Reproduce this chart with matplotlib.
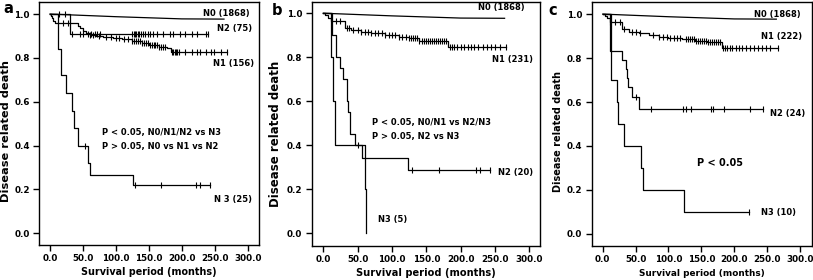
import numpy as np
import matplotlib
matplotlib.use("Agg")
import matplotlib.pyplot as plt

plt.rcParams['font.family'] = ['DejaVu Sans']
plt.rcParams['font.weight'] = 'bold'

# ---------------- data ----------------
x_ticks = [0, 50, 100, 150, 200, 250, 300]
x_tick_labels = ["0.0", "50.0", "100.0", "150.0", "200.0", "250.0", "300.0"]
y_ticks = [0.0, 0.2, 0.4, 0.6, 0.8, 1.0]
y_tick_labels = ["0.0", "0.2", "0.4", "0.6", "0.8", "1.0"]

# N0 (large group, drawn as smooth line)
n0_t = [0, 50, 100, 150, 200, 264]
n0_s = [1.0, 0.994, 0.988, 0.983, 0.978, 0.977]

# Panel a
a_n1_t = [0, 1, 3, 5, 8, 43, 46, 50, 55, 60, 70, 80, 95, 110, 125, 140, 150, 165, 178, 183]
a_n1_s = [1.0, 0.99, 0.98, 0.97, 0.957, 0.945, 0.935, 0.925, 0.915, 0.905, 0.90, 0.895,
          0.89, 0.885, 0.878, 0.868, 0.86, 0.852, 0.845, 0.828]
a_n1_end = 268
a_n1_cens = [20, 27, 60, 66, 75, 85, 92, 100, 105, 112, 118, 125, 128, 131, 134, 137, 140,
             143, 146, 149, 152, 155, 158, 160, 163, 166, 169, 172, 175, 185, 187, 189,
             191, 193, 196, 205, 215, 223, 228, 236, 245, 249, 259, 268]

a_n2_t = [0, 30]
a_n2_s = [1.0, 0.907]
a_n2_end = 240
a_n2_cens = [13, 23, 33, 45, 50, 57, 63, 68, 72, 76, 125, 127, 129, 131, 133, 135, 138,
             141, 144, 148, 152, 156, 162, 172, 182, 187, 197, 205, 215, 223, 236, 240]

a_n3_t = [0, 12, 17, 25, 33, 37, 42, 57, 61, 126]
a_n3_s = [1.0, 0.84, 0.72, 0.64, 0.56, 0.48, 0.40, 0.32, 0.267, 0.222]
a_n3_end = 243
a_n3_cens = [53, 129, 168, 222, 227, 243]

# Panel b
b_n1_t = [0, 3, 7, 11, 31, 40, 55, 70, 90, 110, 125, 140, 182]
b_n1_s = [1.0, 0.99, 0.98, 0.965, 0.935, 0.925, 0.915, 0.908, 0.9, 0.893, 0.886, 0.872, 0.848]
b_n1_end = 266
b_n1_cens = [18, 25, 34, 38, 43, 50, 55, 60, 65, 70, 75, 80, 85, 90, 95, 100, 105, 110, 115,
             120, 125, 128, 131, 134, 137, 140, 143, 146, 149, 152, 155, 158, 161, 164, 167,
             170, 173, 176, 179, 184, 187, 190, 195, 200, 205, 210, 215, 220, 226, 232, 238,
             244, 250, 257, 266]

b_n2_t = [0, 12, 18, 24, 29, 34, 36, 39, 46, 56, 124]
b_n2_s = [1.0, 0.9, 0.8, 0.75, 0.7, 0.6, 0.55, 0.45, 0.40, 0.343, 0.286]
b_n2_end = 243
b_n2_cens = [51, 129, 168, 223, 228, 243]

b_n3_t = [0, 11, 14, 17, 60, 62]
b_n3_s = [1.0, 0.8, 0.6, 0.4, 0.2, 0.0]
b_n3_end = 62
b_n3_cens = []

# Panel c
c_n1_t = [0, 3, 7, 11, 29, 40, 55, 70, 85, 100, 120, 140, 158, 181]
c_n1_s = [1.0, 0.99, 0.98, 0.965, 0.93, 0.92, 0.912, 0.905, 0.897, 0.892, 0.886, 0.878,
          0.871, 0.844]
c_n1_end = 266
c_n1_cens = [11, 19, 26, 33, 44, 50, 57, 77, 85, 92, 98, 103, 108, 113, 117, 127, 130, 133,
             136, 139, 142, 145, 148, 151, 154, 157, 160, 163, 166, 169, 172, 175, 178, 183,
             186, 189, 193, 197, 202, 207, 212, 218, 224, 230, 236, 242, 248, 254, 266]

c_n2_t = [0, 11, 29, 35, 37, 39, 44, 55]
c_n2_s = [1.0, 0.833, 0.792, 0.75, 0.708, 0.667, 0.625, 0.568]
c_n2_end = 243
c_n2_cens = [50, 74, 122, 126, 135, 165, 168, 185, 224, 243]

c_n3_t = [0, 12, 22, 24, 32, 58, 61, 123]
c_n3_s = [1.0, 0.7, 0.6, 0.5, 0.4, 0.3, 0.2, 0.1]
c_n3_end = 223
c_n3_cens = [223]

# ---------------- plotting ----------------
W, H = 813, 280
fig = plt.figure(figsize=(W / 100, H / 100), dpi=100)


def px_axes(left, top, right, bottom):
    return fig.add_axes([left / W, 1 - bottom / H, (right - left) / W, (bottom - top) / H])


def km(ax, t, s, end, cens):
    xs = list(t) + [end]
    ys = list(s) + [s[-1]]
    ax.step(xs, ys, where='post', color='black', lw=0.9)
    if len(cens):
        ta = np.asarray(t)
        sa = np.asarray(s)
        c = np.asarray(cens)
        cy = sa[np.searchsorted(ta, c, side='right') - 1]
        ax.plot(c, cy, linestyle='none', marker='|', color='black', ms=4.5, mew=0.8)


def style(ax, xlim, ylim, xl_size, yl_size, ylab_y):
    ax.set_xlim(*xlim)
    ax.set_ylim(*ylim)
    ax.set_xticks(x_ticks)
    ax.set_xticklabels(x_tick_labels)
    ax.set_yticks(y_ticks)
    ax.set_yticklabels(y_tick_labels)
    ax.tick_params(direction='out', length=4.3, width=1.0, labelsize=6.3, pad=2.5)
    for lab in ax.get_xticklabels() + ax.get_yticklabels():
        lab.set_fontweight('bold')
    for sp in ax.spines.values():
        sp.set_linewidth(1.0)
    ax.set_xlabel("Survival period (months)", fontsize=xl_size, fontweight='bold', labelpad=3)
    ax.set_ylabel("Disease related death", fontsize=yl_size, fontweight='bold')
    ax.yaxis.set_label_coords(-0.13, ylab_y)


txt_kw = dict(fontsize=6.0, fontweight='bold', va='center', ha='left')

# Panel a
ax = px_axes(39.3, 2, 258.7, 244.7)
ax.plot(n0_t, n0_s, color='black', lw=0.9)
km(ax, a_n1_t, a_n1_s, a_n1_end, a_n1_cens)
km(ax, a_n2_t, a_n2_s, a_n2_end, a_n2_cens)
km(ax, a_n3_t, a_n3_s, a_n3_end, a_n3_cens)
style(ax, (-16.2, 316.7), (-0.052, 1.055), 6.9, 8.2, 0.47)
ax.text(232, 1.002, "N0 (1868)", **txt_kw)
ax.text(253, 0.936, "N2 (75)", **txt_kw)
ax.text(247, 0.776, "N1 (156)", **txt_kw)
ax.text(249, 0.156, "N 3 (25)", **txt_kw)
ax.text(79, 0.462, "P < 0.05, N0/N1/N2 vs N3", **txt_kw)
ax.text(79, 0.398, "P > 0.05, N0 vs N1 vs N2", **txt_kw)

# Panel b
ax = px_axes(311.7, 2, 540.3, 245.7)
ax.plot(n0_t, n0_s, color='black', lw=0.9)
km(ax, b_n1_t, b_n1_s, b_n1_end, b_n1_cens)
km(ax, b_n2_t, b_n2_s, b_n2_end, b_n2_cens)
km(ax, b_n3_t, b_n3_s, b_n3_end, b_n3_cens)
style(ax, (-16.9, 316.0), (-0.056, 1.051), 7.1, 8.5, 0.46)
ax.text(226, 1.027, "N0 (1868)", **txt_kw)
ax.text(246, 0.788, "N1 (231)", **txt_kw)
ax.text(255, 0.277, "N2 (20)", **txt_kw)
ax.text(79, 0.064, "N3 (5)", **txt_kw)
ax.text(71, 0.505, "P < 0.05, N0/N1 vs N2/N3", **txt_kw)
ax.text(71, 0.439, "P > 0.05, N2 vs N3", **txt_kw)

# Panel c
ax = px_axes(591.7, 2, 811.7, 246)
ax.plot(n0_t, n0_s, color='black', lw=0.9)
km(ax, c_n1_t, c_n1_s, c_n1_end, c_n1_cens)
km(ax, c_n2_t, c_n2_s, c_n2_end, c_n2_cens)
km(ax, c_n3_t, c_n3_s, c_n3_end, c_n3_cens)
style(ax, (-16.7, 317.8), (-0.055, 1.055), 6.4, 7.0, 0.47)
ax.text(230, 1.0, "N0 (1868)", **txt_kw)
ax.text(241, 0.897, "N1 (222)", **txt_kw)
ax.text(254, 0.549, "N2 (24)", **txt_kw)
ax.text(241, 0.099, "N3 (10)", **txt_kw)
ax.text(143, 0.321, "P < 0.05", fontsize=7.0, fontweight='bold', va='center', ha='left')

# panel letters
fig.text(3 / W, 1 - 13 / H, "a", fontsize=10.5, fontweight='bold', va='baseline', ha='left')
fig.text(272 / W, 1 - 15 / H, "b", fontsize=10.5, fontweight='bold', va='baseline', ha='left')
fig.text(548 / W, 1 - 15 / H, "c", fontsize=10.5, fontweight='bold', va='baseline', ha='left')

fig.savefig("out.png", dpi=100)
